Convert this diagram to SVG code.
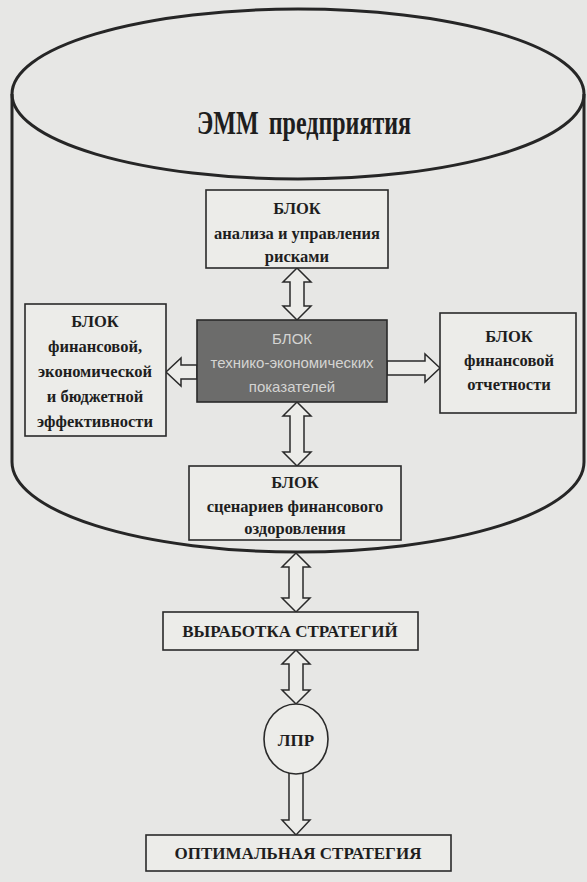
<svg xmlns="http://www.w3.org/2000/svg" width="587" height="882" viewBox="0 0 587 882">
<style>
.bg{fill:#e7e7e5}
.box{fill:#ecece9;stroke:#2a2a2a;stroke-width:1.6}
.dark{fill:#6c6c6b;stroke:#2a2a2a;stroke-width:1.6}
.cyl{fill:none;stroke:#262626;stroke-width:3}
.arr{fill:#ecece9;stroke:#2a2a2a;stroke-width:1.5;stroke-linejoin:miter}
.t{font-family:"Liberation Serif","Times New Roman",serif;font-weight:bold;font-size:16.5px;fill:#1e1e1e;text-anchor:middle}
.td{font-family:"Liberation Sans",Arial,sans-serif;font-size:15px;fill:#d4d4d2;text-anchor:middle}
.title{font-family:"Liberation Serif","Times New Roman",serif;font-weight:bold;font-size:34px;fill:#1e1e1e;text-anchor:middle;word-spacing:6px}
</style>
<rect class="bg" x="0" y="0" width="587" height="882"/>
<g id="cylinder">
<path class="cyl" d="M12,94 L12,462 A286,90 0 0 0 584,462 L584,94"/>
<ellipse class="cyl" cx="298" cy="94" rx="286" ry="85"/>
<text class="title" x="304" y="134" textLength="214" lengthAdjust="spacingAndGlyphs">ЭММ предприятия</text>
</g>
<g id="connectors">
<path class="arr" d="M297,268 L311,282 L304,282 L304,306 L311,306 L297,320 L283,306 L290,306 L290,282 L283,282 Z"/>
<path class="arr" d="M297,402 L311,416 L304,416 L304,452 L311,452 L297,466 L283,452 L290,452 L290,416 L283,416 Z"/>
<path class="arr" d="M296,553 L310,567 L303,567 L303,598 L310,598 L296,612 L282,598 L289,598 L289,567 L282,567 Z"/>
<path class="arr" d="M296,650 L310,664 L303,664 L303,690 L310,690 L296,704 L282,690 L289,690 L289,664 L282,664 Z"/>
<path class="arr" d="M289,773 L303,773 L303,820 L310,820 L296,835 L282,820 L289,820 Z"/>
<path class="arr" d="M166,372 L181,358 L181,365 L197,365 L197,379 L181,379 L181,386 Z"/>
<path class="arr" d="M440,368 L425,354 L425,361 L387,361 L387,375 L425,375 L425,382 Z"/>
</g>
<g id="risk">
<rect class="box" x="206" y="190" width="182" height="78"/>
<text class="t" x="297" y="214">БЛОК</text>
<text class="t" x="297" y="239">анализа и управления</text>
<text class="t" x="297" y="262">рисками</text>
</g>
<g id="tech">
<rect class="dark" x="197" y="320" width="190" height="82"/>
<text class="td" x="292" y="344">БЛОК</text>
<text class="td" x="292" y="368">технико-экономических</text>
<text class="td" x="292" y="392">показателей</text>
</g>
<g id="finecon">
<rect class="box" x="25" y="304" width="141" height="132"/>
<text class="t" x="95" y="327">БЛОК</text>
<text class="t" x="95" y="352">финансовой,</text>
<text class="t" x="95" y="377">экономической</text>
<text class="t" x="95" y="402">и бюджетной</text>
<text class="t" x="95" y="427">эффективности</text>
</g>
<g id="report">
<rect class="box" x="440" y="313" width="136" height="100"/>
<text class="t" x="509" y="342">БЛОК</text>
<text class="t" x="509" y="366">финансовой</text>
<text class="t" x="509" y="390">отчетности</text>
</g>
<g id="scen">
<rect class="box" x="189" y="466" width="212" height="74"/>
<text class="t" x="295" y="488">БЛОК</text>
<text class="t" x="295" y="512">сценариев финансового</text>
<text class="t" x="295" y="534">оздоровления</text>
</g>
<g id="strat">
<rect class="box" x="163" y="612" width="255" height="38"/>
<text class="t" x="290" y="637" style="font-size:17px">ВЫРАБОТКА СТРАТЕГИЙ</text>
</g>
<g id="lpr">
<ellipse class="box" cx="296" cy="739" rx="32" ry="35"/>
<text class="t" x="296" y="746" style="font-size:17px">ЛПР</text>
</g>
<g id="optimal">
<rect class="box" x="146" y="835" width="305" height="36"/>
<text class="t" x="298" y="859" style="font-size:17px">ОПТИМАЛЬНАЯ СТРАТЕГИЯ</text>
</g>
</svg>
